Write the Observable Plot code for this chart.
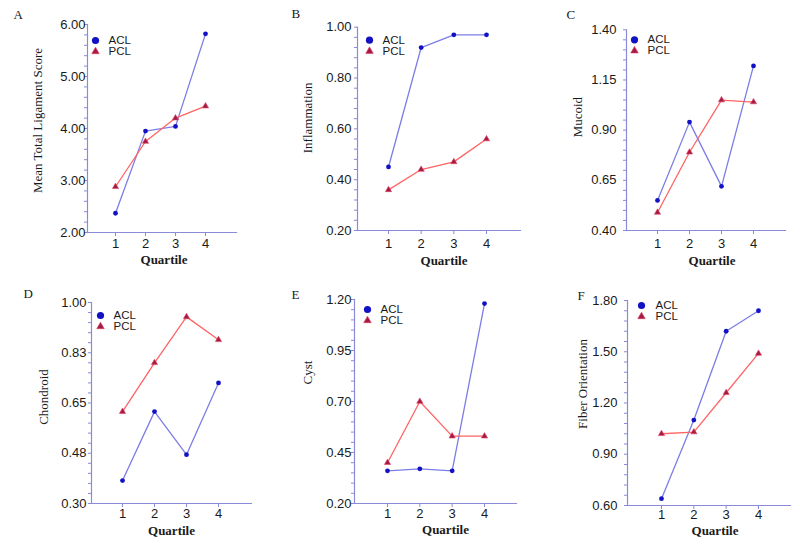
<!DOCTYPE html>
<html><head><meta charset="utf-8">
<script src="https://cdn.jsdelivr.net/npm/d3@7"></script>
<script src="https://cdn.jsdelivr.net/npm/@observablehq/plot@0.6"></script>
<style>
html,body{margin:0;padding:0;background:#fff;}
#chart{position:relative;width:800px;height:544px;overflow:hidden;background:#fff;}
#chart svg{position:absolute;left:0;top:0;}
</style></head><body><div id="chart"></div>
<script>
// ---- data ----
const quartiles = [1, 2, 3, 4];
const seriesNames = ["ACL", "PCL"];
const panelLetters = ["A", "B", "C", "D", "E", "F"];
const yLabels = ["Mean Total Ligament Score", "Inflammation", "Mucoid", "Chondroid", "Cyst", "Fiber Orientation"];
const xLabel = "Quartile";

const aclA = [2.37, 3.95, 4.04, 5.82];
const pclA = [2.88, 3.75, 4.20, 4.43];
const aclB = [0.45, 0.92, 0.97, 0.97];
const pclB = [0.36, 0.44, 0.47, 0.56];
const aclC = [0.55, 0.94, 0.62, 1.22];
const pclC = [0.49, 0.79, 1.05, 1.04];
const aclD = [0.38, 0.62, 0.47, 0.72];
const pclD = [0.62, 0.79, 0.95, 0.87];
const aclE = [0.36, 0.37, 0.36, 1.18];
const pclE = [0.40, 0.70, 0.53, 0.53];
const aclF = [0.64, 1.10, 1.62, 1.74];
const pclF = [1.02, 1.03, 1.26, 1.49];

const yTicksA = [2, 3, 4, 5, 6];
const yTickLabelsA = ["2.00", "3.00", "4.00", "5.00", "6.00"];
const yTicksB = [0.2, 0.4, 0.6, 0.8, 1.0];
const yTickLabelsB = ["0.20", "0.40", "0.60", "0.80", "1.00"];
const yTicksC = [0.4, 0.65, 0.9, 1.15, 1.4];
const yTickLabelsC = ["0.40", "0.65", "0.90", "1.15", "1.40"];
const yTicksD = [0.3, 0.475, 0.65, 0.825, 1.0];
const yTickLabelsD = ["0.30", "0.48", "0.65", "0.83", "1.00"];
const yTicksE = [0.2, 0.45, 0.7, 0.95, 1.2];
const yTickLabelsE = ["0.20", "0.45", "0.70", "0.95", "1.20"];
const yTicksF = [0.6, 0.9, 1.2, 1.5, 1.8];
const yTickLabelsF = ["0.60", "0.90", "1.20", "1.50", "1.80"];

const aclData = [aclA, aclB, aclC, aclD, aclE, aclF];
const pclData = [pclA, pclB, pclC, pclD, pclE, pclF];
const yTicks = [yTicksA, yTicksB, yTicksC, yTicksD, yTicksE, yTicksF];
const yTickLabels = [yTickLabelsA, yTickLabelsB, yTickLabelsC, yTickLabelsD, yTickLabelsE, yTickLabelsF];

// ---- layout (pixel positions of each panel) ----
const layout = [
  {axisX: 87,  t1: 115, t4: 205, end: 236, top: 24,   bottom: 232, pad: -1, xpad: 2, lab: [-50, -8],  q: [2, 27],  leg: [8, 16, 11, 21],  letter: [-74, -6]},
  {axisX: 357, t1: 388, t4: 486, end: 520, top: 26.7, bottom: 230, pad: 3,  xpad: 4, lab: [-50, -11], q: [5, 30],  leg: [12, 13, 11, 25], letter: [-66, -9]},
  {axisX: 626, t1: 657, t4: 753, end: 785, top: 29.3, bottom: 230, pad: 7,  xpad: 4, lab: [-49, -13], q: [6, 30],  leg: [8, 10, 11, 21],  letter: [-60, -11]},
  {axisX: 91,  t1: 122, t4: 218, end: 251, top: 302,  bottom: 503, pad: 2,  xpad: 1, lab: [-48, -6],  q: [0, 27],  leg: [9, 13, 11, 22],  letter: [-68, -5]},
  {axisX: 354, t1: 387, t4: 484, end: 516, top: 299,  bottom: 503, pad: 0,  xpad: 1, lab: [-47, -29], q: [10, 26], leg: [13, 10, 11, 26], letter: [-63, -1]},
  {axisX: 627, t1: 661, t4: 758, end: 790, top: 300,  bottom: 505, pad: 7,  xpad: 0, lab: [-45, -19], q: [6, 25],  leg: [14, 5, 11, 28],  letter: [-50, -1]}
];

const axisColor = "#8a8ad8";
const aclLine = "#7d7de6";
const aclDot = "#1212c4";
const pclLine = "#ff6464";
const pclDot = "#a41a46";
const pclEdge = "#e0405a";
const textColor = "#1a1a1a";
const sans = "'Liberation Sans', Arial, sans-serif";
const serif = "'Liberation Serif', 'Times New Roman', serif";

const chart = document.getElementById("chart");

layout.forEach((L, i) => {
  const acl = aclData[i], pcl = pclData[i];
  const yt = yTicks[i];
  const labelMap = new Map(yt.map((v, k) => [v, yTickLabels[i][k]]));
  const minor = [];
  for (let k = 0; k < yt.length - 1; k++)
    for (let m = 1; m < 5; m++) minor.push(yt[k] + (yt[k + 1] - yt[k]) * m / 5);

  const svg = Plot.plot({
    width: 800,
    height: 544,
    marginLeft: L.axisX,
    marginRight: 800 - L.end,
    marginTop: L.top,
    marginBottom: 544 - L.bottom,
    style: {fontFamily: sans, fontSize: "13px", background: "transparent", overflow: "visible", color: textColor},
    x: {domain: [1, 4], range: [L.t1, L.t4]},
    y: {domain: [yt[0], yt[yt.length - 1]]},
    marks: [
      Plot.frame({anchor: "left", stroke: axisColor, strokeWidth: 1.2}),
      Plot.frame({anchor: "bottom", stroke: axisColor, strokeWidth: 1.2}),
      Plot.axisY(minor, {tickSize: 3, stroke: axisColor, tickFormat: () => "", label: null}),
      Plot.axisY(yt, {tickSize: 3, tickPadding: L.pad, stroke: axisColor, fill: textColor, tickFormat: d => labelMap.get(d), label: null, fontSize: 13}),
      Plot.axisX(quartiles, {tickSize: 4, tickPadding: L.xpad, stroke: axisColor, fill: textColor, tickFormat: d => String(d), label: null, fontSize: 13}),
      Plot.line(quartiles, {x: quartiles, y: acl, stroke: aclLine, strokeWidth: 1.3}),
      Plot.line(quartiles, {x: quartiles, y: pcl, stroke: pclLine, strokeWidth: 1.3}),
      Plot.dot(quartiles, {x: quartiles, y: acl, r: 2.4, fill: aclDot}),
      Plot.dot(quartiles, {x: quartiles, y: pcl, r: 2.3, symbol: "triangle", fill: pclDot, stroke: pclEdge, strokeWidth: 0.6}),
      // legend
      Plot.dot([seriesNames[0]], {frameAnchor: "top-left", dx: L.leg[0], dy: L.leg[1], r: 3.6, fill: aclDot}),
      Plot.dot([seriesNames[1]], {frameAnchor: "top-left", dx: L.leg[0], dy: L.leg[1] + L.leg[2], r: 2.8, symbol: "triangle", fill: pclDot, stroke: pclEdge, strokeWidth: 0.6}),
      Plot.text([seriesNames[0]], {frameAnchor: "top-left", dx: L.leg[3], dy: L.leg[1], text: d => d, textAnchor: "start", lineAnchor: "middle", fontSize: 11.5, fill: textColor}),
      Plot.text([seriesNames[1]], {frameAnchor: "top-left", dx: L.leg[3], dy: L.leg[1] + L.leg[2], text: d => d, textAnchor: "start", lineAnchor: "middle", fontSize: 11.5, fill: textColor}),
      // axis titles
      Plot.text([yLabels[i]], {frameAnchor: "left", dx: L.lab[0], dy: L.lab[1], rotate: -90, text: d => d, textAnchor: "middle", lineAnchor: "middle", fontFamily: serif, fontSize: 13, fill: textColor}),
      Plot.text([xLabel], {frameAnchor: "bottom", dx: L.q[0], dy: L.q[1], text: d => d, textAnchor: "middle", lineAnchor: "middle", fontFamily: serif, fontSize: 13, fontWeight: "bold", fill: textColor}),
      // panel letter
      Plot.text([panelLetters[i]], {frameAnchor: "top-left", dx: L.letter[0], dy: L.letter[1], text: d => d, textAnchor: "start", lineAnchor: "bottom", fontFamily: serif, fontSize: 13, fill: textColor})
    ]
  });
  chart.appendChild(svg);
});
</script></body></html>
